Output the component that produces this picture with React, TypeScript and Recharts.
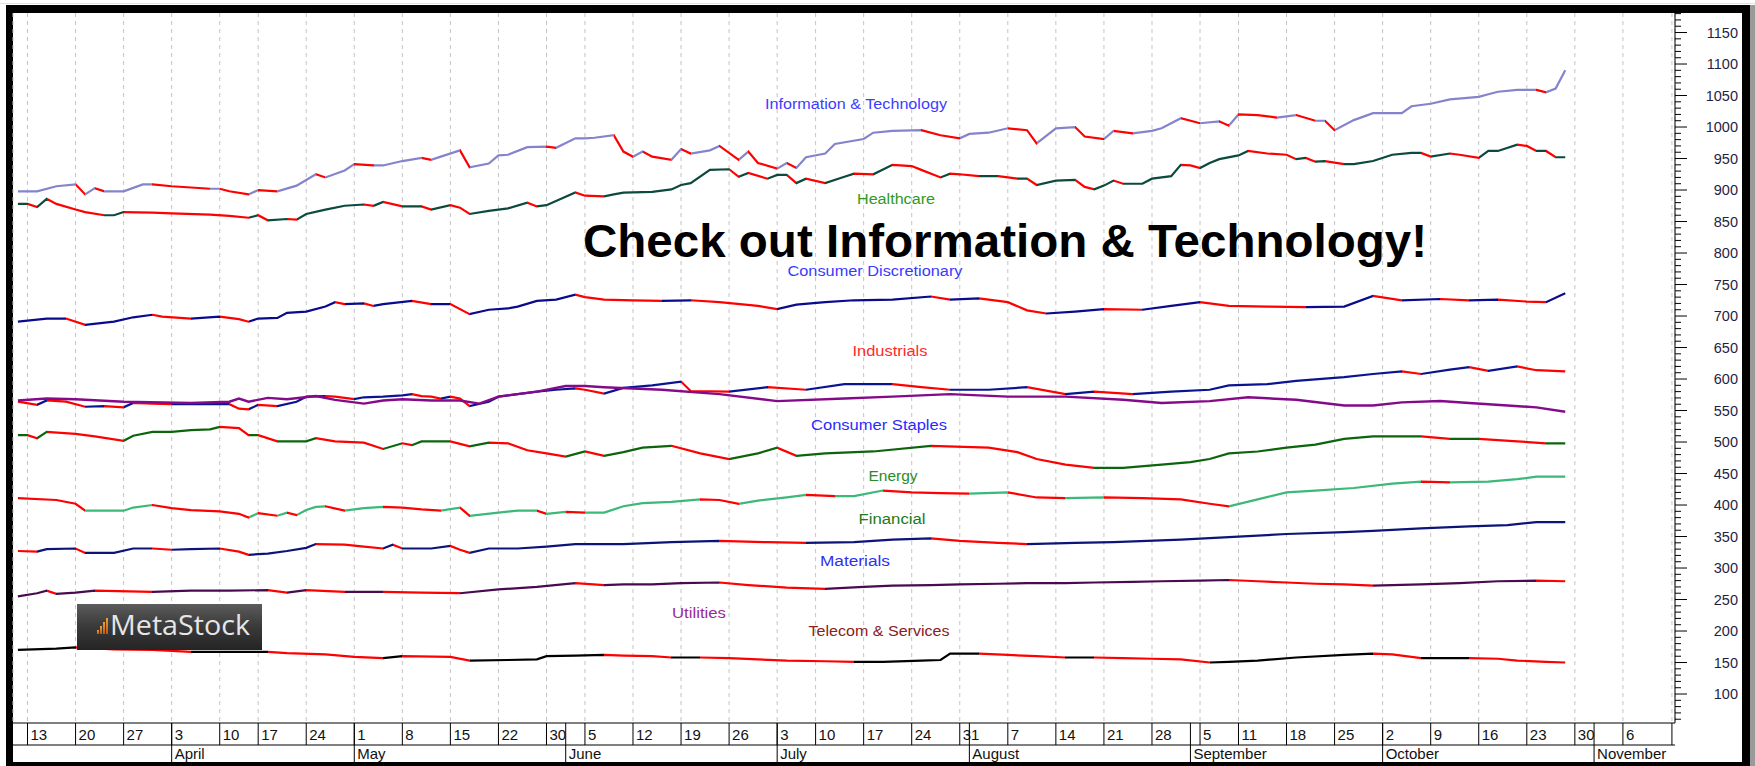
import React from 'react'
import { LineChart, Line, XAxis, YAxis, CartesianGrid } from 'recharts'

// x = trading day index, 0 = Mon 13 Mar 2017
const weekTicks = [0, 5, 10, 15, 20, 24, 29, 34, 39, 44, 49, 54, 58, 63, 68, 73, 78, 82, 87, 92, 97, 102, 107, 112, 117, 122, 126, 131, 136, 141, 146, 151, 156, 161, 166]
const weekLabels = ['13', '20', '27', '3', '10', '17', '24', '1', '8', '15', '22', '30', '5', '12', '19', '26', '3', '10', '17', '24', '31', '7', '14', '21', '28', '5', '11', '18', '25', '2', '9', '16', '23', '30', '6']
const monthTicks = [15, 34, 56, 78, 98, 121, 141, 163]
const monthLabels = ['April', 'May', 'June', 'July', 'August', 'September', 'October', 'November']

const XMIN = -1.51
const XMAX = 171.42
const XEND = 171.1
const YMIN = 54
const YMAX = 1181

type Pt = [number, number]

const infoTech: Pt[] = [[-1, 898], [1, 898], [3, 906], [5, 909], [6, 893], [7, 903], [8, 898], [10, 898], [12, 909], [13, 909], [15, 906], [17, 904], [19, 902], [20, 902], [21, 898], [23, 893], [24, 900], [26, 898], [28, 907], [30, 925], [31, 920], [33, 931], [34, 941], [36, 939], [37, 939], [39, 946], [41, 951], [42, 948], [43, 953], [45, 963], [46, 936], [48, 942], [49, 955], [50, 956], [52, 968], [54, 969], [55, 967], [57, 982], [58, 982], [59, 983], [61, 987], [62, 961], [63, 953], [64, 961], [65, 953], [67, 948], [68, 965], [69, 958], [71, 963], [72, 970], [74, 948], [75, 961], [76, 943], [78, 934], [79, 943], [80, 935], [81, 952], [83, 958], [84, 973], [87, 981], [88, 991], [90, 994], [93, 995], [95, 987], [97, 982], [98, 989], [100, 991], [102, 998], [104, 995], [105, 974], [107, 998], [109, 1000], [110, 985], [112, 981], [113, 994], [115, 990], [117, 994], [118, 998], [120, 1014], [122, 1006], [124, 1009], [125, 1002], [126, 1020], [128, 1019], [130, 1015], [132, 1019], [134, 1010], [135, 1010], [136, 995], [138, 1011], [140, 1022], [143, 1022], [144, 1033], [146, 1037], [148, 1044], [151, 1048], [152, 1052], [153, 1056], [155, 1059], [157, 1059], [158, 1055], [159, 1061], [160, 1090]]

const healthcare: Pt[] = [[-1, 878], [0, 878], [1, 873], [2, 886], [3, 878], [5, 869], [6, 865], [8, 860], [9, 860], [10, 865], [13, 864], [15, 863], [19, 861], [21, 859], [23, 856], [24, 860], [25, 852], [27, 854], [28, 853], [29, 862], [31, 869], [33, 875], [35, 877], [36, 875], [37, 881], [39, 874], [41, 874], [42, 869], [44, 876], [45, 872], [46, 862], [48, 867], [50, 871], [52, 880], [53, 874], [54, 876], [57, 896], [58, 891], [60, 890], [61, 893], [62, 896], [65, 897], [67, 901], [68, 908], [69, 911], [71, 932], [73, 933], [74, 921], [75, 927], [77, 918], [78, 924], [79, 924], [80, 911], [81, 918], [83, 911], [85, 921], [86, 926], [88, 925], [90, 940], [92, 938], [93, 932], [95, 920], [96, 926], [97, 925], [99, 922], [101, 922], [103, 918], [104, 918], [105, 908], [107, 915], [109, 916], [110, 905], [111, 901], [112, 907], [113, 915], [114, 910], [116, 910], [117, 918], [119, 922], [120, 940], [121, 939], [122, 935], [123, 943], [124, 949], [126, 955], [127, 962], [129, 958], [131, 956], [132, 949], [133, 951], [134, 945], [135, 946], [137, 941], [138, 941], [140, 946], [142, 956], [144, 959], [145, 959], [146, 953], [148, 958], [149, 956], [151, 951], [152, 962], [153, 962], [155, 972], [156, 970], [157, 962], [158, 962], [159, 952], [160, 952]]

const consDisc: Pt[] = [[-1, 691], [2, 696], [4, 696], [6, 686], [9, 691], [11, 698], [13, 702], [14, 699], [17, 696], [20, 699], [22, 695], [23, 691], [24, 696], [26, 697], [27, 705], [29, 707], [31, 715], [32, 722], [33, 719], [35, 720], [36, 716], [37, 719], [40, 724], [42, 719], [44, 719], [46, 703], [48, 710], [50, 712], [51, 715], [53, 724], [55, 726], [57, 734], [58, 730], [60, 726], [63, 725], [66, 724], [69, 725], [72, 722], [76, 716], [78, 711], [80, 718], [83, 722], [86, 725], [90, 726], [94, 731], [96, 726], [99, 728], [102, 722], [104, 709], [106, 704], [109, 707], [112, 711], [116, 710], [119, 716], [122, 722], [125, 716], [129, 715], [133, 714], [137, 715], [140, 732], [143, 725], [147, 727], [150, 725], [153, 726], [156, 723], [158, 722], [160, 736]]

const industrials: Pt[] = [[-1, 564], [1, 559], [2, 566], [4, 564], [6, 556], [8, 557], [10, 555], [11, 562], [13, 561], [15, 560], [21, 560], [22, 553], [23, 552], [24, 559], [26, 557], [28, 564], [29, 572], [31, 573], [32, 572], [34, 568], [35, 571], [37, 572], [39, 574], [40, 576], [41, 573], [42, 572], [43, 569], [44, 572], [45, 569], [46, 557], [48, 564], [49, 572], [51, 576], [53, 580], [55, 583], [57, 585], [58, 583], [60, 577], [62, 586], [65, 590], [68, 596], [69, 581], [73, 580], [77, 587], [81, 583], [85, 592], [90, 592], [93, 587], [96, 583], [100, 583], [104, 587], [108, 576], [111, 580], [115, 576], [119, 580], [123, 583], [125, 590], [129, 592], [132, 597], [137, 603], [140, 608], [143, 612], [145, 608], [148, 615], [150, 619], [152, 613], [155, 620], [157, 614], [160, 612]]

const staples: Pt[] = [[-1, 566], [2, 569], [5, 568], [10, 564], [17, 562], [21, 564], [22, 569], [23, 564], [25, 570], [27, 568], [30, 573], [32, 567], [35, 561], [37, 566], [39, 568], [42, 566], [45, 566], [47, 561], [49, 572], [53, 580], [56, 589], [58, 589], [60, 587], [63, 585], [66, 583], [72, 576], [78, 565], [85, 569], [90, 572], [96, 576], [102, 572], [108, 572], [114, 567], [118, 562], [123, 565], [127, 571], [132, 567], [137, 558], [140, 558], [143, 563], [147, 565], [150, 562], [154, 558], [157, 555], [160, 548]]

const energy: Pt[] = [[-1, 511], [0, 511], [1, 506], [2, 516], [5, 513], [7, 509], [10, 502], [11, 510], [13, 516], [15, 516], [17, 519], [19, 520], [20, 524], [22, 522], [23, 511], [24, 511], [26, 501], [29, 501], [30, 506], [32, 501], [35, 499], [37, 489], [39, 498], [40, 495], [41, 501], [44, 501], [46, 493], [48, 499], [50, 498], [52, 487], [54, 482], [56, 477], [58, 485], [60, 478], [62, 484], [64, 491], [67, 494], [70, 482], [73, 473], [76, 482], [78, 491], [80, 478], [83, 482], [88, 485], [94, 494], [100, 491], [103, 484], [105, 473], [108, 464], [111, 459], [114, 459], [118, 464], [121, 468], [123, 473], [125, 482], [128, 485], [131, 491], [134, 496], [137, 505], [140, 509], [145, 509], [148, 505], [151, 505], [155, 501], [158, 498], [160, 498]]

const financial: Pt[] = [[-1, 411], [3, 408], [5, 402], [6, 391], [10, 391], [11, 396], [13, 400], [15, 395], [17, 392], [20, 390], [22, 386], [23, 380], [24, 387], [26, 383], [27, 388], [28, 384], [29, 392], [30, 397], [31, 398], [33, 391], [35, 395], [37, 397], [39, 396], [41, 393], [43, 391], [45, 396], [46, 383], [49, 388], [51, 391], [53, 391], [54, 386], [56, 389], [58, 388], [60, 388], [62, 398], [64, 403], [67, 405], [70, 409], [72, 408], [74, 402], [76, 407], [79, 412], [81, 416], [84, 414], [86, 414], [89, 423], [92, 420], [95, 419], [98, 418], [102, 420], [105, 412], [108, 411], [112, 412], [116, 411], [120, 409], [123, 402], [125, 398], [128, 409], [131, 420], [134, 423], [138, 427], [142, 434], [145, 437], [148, 436], [152, 437], [155, 441], [157, 445], [160, 445]]

const materials: Pt[] = [[-1, 327], [1, 326], [2, 330], [5, 331], [6, 324], [9, 324], [11, 331], [13, 331], [15, 329], [17, 330], [20, 331], [22, 326], [23, 321], [25, 323], [27, 327], [29, 332], [30, 338], [33, 337], [35, 334], [37, 331], [38, 337], [39, 331], [42, 331], [44, 335], [45, 329], [46, 324], [48, 331], [51, 331], [54, 334], [57, 338], [60, 338], [62, 338], [67, 341], [72, 343], [77, 341], [81, 340], [86, 341], [90, 345], [94, 347], [97, 343], [101, 340], [104, 338], [109, 340], [113, 341], [120, 345], [125, 349], [131, 354], [137, 357], [140, 359], [145, 363], [150, 366], [154, 368], [157, 373], [160, 373]]

const utilities: Pt[] = [[-1, 255], [1, 260], [2, 264], [3, 259], [5, 261], [7, 264], [13, 262], [17, 264], [21, 264], [25, 265], [27, 261], [29, 265], [33, 262], [37, 262], [41, 261], [45, 260], [49, 266], [53, 270], [57, 276], [60, 273], [62, 274], [65, 274], [68, 276], [72, 277], [75, 273], [79, 269], [83, 267], [87, 270], [90, 272], [94, 273], [97, 274], [101, 275], [104, 276], [108, 276], [111, 277], [115, 278], [118, 279], [122, 280], [125, 281], [128, 279], [131, 277], [134, 275], [137, 274], [140, 272], [145, 274], [149, 276], [153, 279], [157, 280], [160, 279]]

const telecom: Pt[] = [[-1, 170], [3, 172], [5, 174], [9, 171], [13, 170], [17, 167], [21, 167], [25, 167], [27, 165], [31, 163], [34, 159], [37, 157], [39, 160], [44, 159], [46, 153], [50, 154], [53, 155], [54, 160], [57, 161], [60, 162], [62, 161], [65, 160], [67, 158], [70, 158], [73, 157], [76, 155], [79, 153], [83, 152], [86, 151], [89, 151], [93, 153], [95, 154], [96, 164], [99, 164], [102, 162], [105, 160], [108, 158], [111, 158], [114, 157], [117, 156], [120, 155], [123, 150], [125, 151], [128, 153], [132, 158], [137, 162], [140, 164], [142, 163], [145, 157], [150, 157], [153, 156], [155, 153], [158, 151], [160, 150]]

const RED = '#ff0000'

const series = [
  { name: 'it', pts: infoTech, up: '#8484cc', w: 2.2 },
  { name: 'hc', pts: healthcare, up: '#0b4a3c', w: 2.2 },
  { name: 'cd', pts: consDisc, up: '#0a0a8c', w: 2.2 },
  { name: 'ind', pts: industrials, up: '#0a1490', w: 2.2 },
  { name: 'cs', pts: staples, up: '#850a8a', w: 2.4, noRed: true },
  { name: 'en', pts: energy, up: '#0c640c', w: 2.2 },
  { name: 'fin', pts: financial, up: '#3cb878', w: 2.2 },
  { name: 'mat', pts: materials, up: '#0c1478', w: 2.2 },
  { name: 'ut', pts: utilities, up: '#4a0a50', w: 2.2 },
  { name: 'tel', pts: telecom, up: '#000000', w: 2.2 },
]

const labels = [
  { text: 'Information & Technology', x: 856, y: 109, w: 182, color: '#3c3cff' },
  { text: 'Healthcare', x: 896, y: 204, w: 78, color: '#2f9a26' },
  { text: 'Consumer Discretionary', x: 875, y: 276, w: 175, color: '#3a3aff' },
  { text: 'Industrials', x: 890, y: 356, w: 75, color: '#ff2a2a' },
  { text: 'Consumer Staples', x: 879, y: 430, w: 136, color: '#2a2aff' },
  { text: 'Energy', x: 893, y: 481, w: 49, color: '#2a8a2a' },
  { text: 'Financial', x: 892, y: 524, w: 67, color: '#1a7a1a' },
  { text: 'Materials', x: 855, y: 566, w: 70, color: '#3030f0' },
  { text: 'Utilities', x: 699, y: 618, w: 54, color: '#9a2a9a' },
  { text: 'Telecom & Services', x: 879, y: 636, w: 141, color: '#8a2020' },
]

const yTicks: number[] = []
for (let v = 60; v <= 1180; v += 10) yTicks.push(v)

const FONT = '"Liberation Sans", Arial, sans-serif'

function WeekTick(props: any) {
  const { x, y, payload } = props
  const i = weekTicks.indexOf(payload.value)
  return (
    <g>
      <line x1={x} y1={y} x2={x} y2={y + 22} stroke="#000" strokeWidth={1} />
      {i >= 0 && (
        <text x={x + 3} y={y + 17} fontSize={15} fontFamily={FONT} fill="#111">
          {weekLabels[i]}
        </text>
      )}
    </g>
  )
}

function MonthTick(props: any) {
  const { x, y, payload } = props
  const i = monthTicks.indexOf(payload.value)
  return (
    <g>
      <line x1={x} y1={y - 22} x2={x} y2={y + 17} stroke="#000" strokeWidth={1} />
      <text x={x + 3} y={y + 14} fontSize={15} fontFamily={FONT} fill="#111">
        {monthLabels[i]}
      </text>
    </g>
  )
}

function YTick(props: any) {
  const { x, y, payload } = props
  const v = payload.value
  const major = v % 50 === 0
  return (
    <g>
      <line x1={x} y1={y} x2={x + (major ? 12 : 6)} y2={y} stroke="#000" strokeWidth={1} />
      {major && v >= 100 && v <= 1150 && (
        <text x={x + 63} y={y + 5} textAnchor="end" fontSize={14.5} fontFamily={FONT} fill="#1e1e46">
          {v}
        </text>
      )}
    </g>
  )
}

function gradientStops(pts: Pt[], up: string, noRed?: boolean) {
  const x0 = pts[0][0]
  const x1 = pts[pts.length - 1][0]
  const out: React.ReactNode[] = []
  for (let i = 0; i < pts.length - 1; i++) {
    const c = !noRed && pts[i + 1][1] < pts[i][1] ? RED : up
    const a = (pts[i][0] - x0) / (x1 - x0)
    const b = (pts[i + 1][0] - x0) / (x1 - x0)
    out.push(<stop key={i + 'a'} offset={a} stopColor={c} />)
    out.push(<stop key={i + 'b'} offset={b} stopColor={c} />)
  }
  return out
}

export default function App() {
  return (
    <div
      style={{
        position: 'absolute',
        left: 0,
        top: 0,
        width: 1755,
        height: 766,
        overflow: 'hidden',
        background: '#fff',
        fontFamily: FONT,
      }}
    >
      <div style={{ position: 'absolute', left: 0, top: 3, width: 1755, height: 1, background: '#e2e2e2' }} />
      <div style={{ position: 'absolute', left: 1750, top: 5, width: 5, height: 761, background: '#9a9a9a' }} />
      <div
        style={{
          position: 'absolute',
          left: 6,
          top: 5,
          width: 1744,
          height: 766,
          boxSizing: 'border-box',
          borderLeft: '7px solid #000',
          borderTop: '8px solid #000',
          borderRight: '8px solid #000',
          borderBottom: '4px solid #000',
        }}
      />
      <div style={{ position: 'absolute', left: 6, top: 762, width: 1744, height: 4, background: '#000' }} />
      <div style={{ position: 'absolute', left: 0, top: 0 }}>
        <LineChart width={1755} height={766} margin={{ top: 13, right: 13, bottom: 4, left: 13 }}>
          <defs>
            {series.map((s) => (
              <linearGradient key={s.name} id={'g-' + s.name} x1="0" y1="0" x2="1" y2="0">
                {gradientStops(s.pts, s.up, s.noRed)}
              </linearGradient>
            ))}
          </defs>
          <CartesianGrid xAxisId="axWeek" horizontal={false} stroke="#c4c4c4" strokeDasharray="4 4" />
          <XAxis
            xAxisId="bxMonth"
            dataKey="x"
            type="number"
            domain={[XMIN, XMAX]}
            allowDataOverflow
            ticks={monthTicks}
            interval={0}
            height={17}
            tickLine={false}
            tickSize={0}
            tickMargin={0}
            axisLine={{ stroke: '#000' }}
            tick={(p: any) => <MonthTick {...p} />}
          />
          <XAxis
            xAxisId="axWeek"
            dataKey="x"
            type="number"
            domain={[XMIN, XMAX]}
            allowDataOverflow
            ticks={[...weekTicks, XEND]}
            interval={0}
            height={22}
            tickLine={false}
            tickSize={0}
            tickMargin={0}
            axisLine={{ stroke: '#000' }}
            tick={(p: any) => <WeekTick {...p} />}
          />
          <YAxis
            orientation="right"
            type="number"
            domain={[YMIN, YMAX]}
            allowDataOverflow
            ticks={yTicks}
            interval={0}
            width={67}
            tickLine={false}
            tickSize={0}
            tickMargin={0}
            axisLine={{ stroke: '#000' }}
            tick={(p: any) => <YTick {...p} />}
          />
          {series.map((s) => (
            <Line
              key={s.name}
              xAxisId="axWeek"
              data={s.pts.map(([x, v]) => ({ x, v }))}
              dataKey="v"
              type="linear"
              stroke={'url(#g-' + s.name + ')'}
              strokeWidth={s.w}
              dot={false}
              activeDot={false}
              isAnimationActive={false}
            />
          ))}
        </LineChart>
      </div>
      <svg width={1755} height={766} style={{ position: 'absolute', left: 0, top: 0, pointerEvents: 'none' }}>
        {labels.map((l) => (
          <text
            key={l.text}
            x={l.x - l.w / 2}
            y={l.y}
            fontSize={14}
            fontFamily={FONT}
            fill={l.color}
            textLength={l.w}
            lengthAdjust="spacingAndGlyphs"
          >
            {l.text}
          </text>
        ))}
        <text
          x={583}
          y={257}
          fontSize={46}
          fontWeight="bold"
          fontFamily={FONT}
          fill="#000"
          textLength={844}
          lengthAdjust="spacingAndGlyphs"
        >
          Check out Information &amp; Technology!
        </text>
        <defs>
          <linearGradient id="logoBg" x1="0" y1="0" x2="0" y2="1">
            <stop offset="0" stopColor="#5c5c5c" />
            <stop offset="0.45" stopColor="#3c3c3c" />
            <stop offset="1" stopColor="#242424" />
          </linearGradient>
          <linearGradient id="logoBar" x1="0" y1="0" x2="0" y2="1">
            <stop offset="0" stopColor="#f0a030" />
            <stop offset="1" stopColor="#c05a10" />
          </linearGradient>
        </defs>
        <rect x={77} y={604} width={185} height={46} fill="url(#logoBg)" />
        <rect x={97} y={630} width={2} height={4} fill="url(#logoBar)" />
        <rect x={100} y={626} width={2} height={8} fill="url(#logoBar)" />
        <rect x={103} y={622} width={2} height={12} fill="url(#logoBar)" />
        <rect x={106} y={618} width={2} height={16} fill="url(#logoBar)" />
        <text x={110} y={635} fontSize={27} fontFamily='"Open Sans", "Noto Sans", sans-serif' fill="#e6e6e6" textLength={140} lengthAdjust="spacingAndGlyphs">
          MetaStock
        </text>
      </svg>
    </div>
  )
}
